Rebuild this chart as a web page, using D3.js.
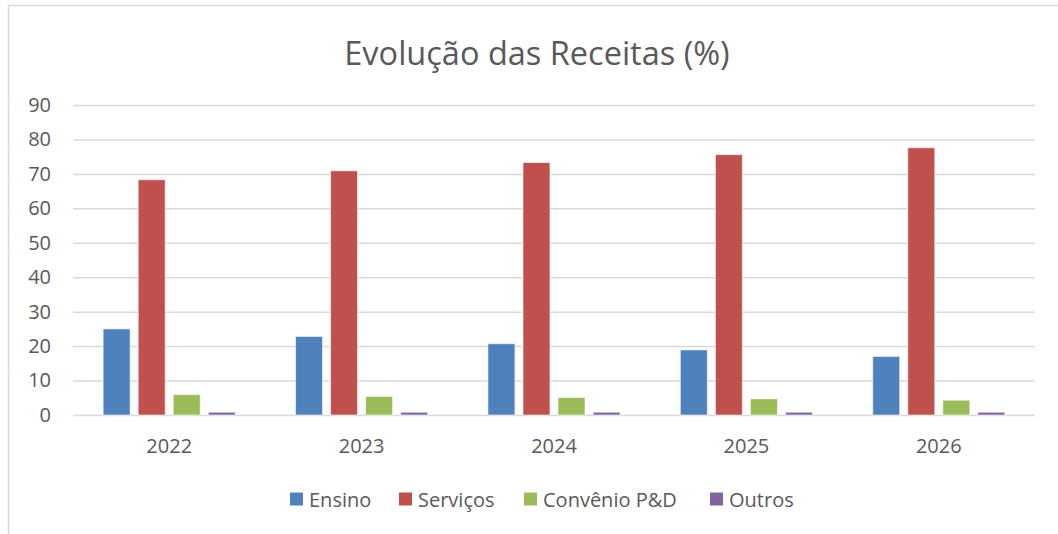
<!DOCTYPE html>
<html>
<head>
<meta charset="utf-8">
<script src="https://cdnjs.cloudflare.com/ajax/libs/d3/7.8.5/d3.min.js"></script>
<style>
	body { margin: 0; background: #fff; }
	text { font-family: 'Open Sans', sans-serif; fill: #595959; }
</style>
</head>
<body>
<svg id="chart" width="1058" height="534"></svg>
<script>
'use strict'

var years = ['2022', '2023', '2024', '2025', '2026'];
var seriesNames = ['Ensino', 'Serviços', 'Convênio P&D', 'Outros'];
var ensino = [25.0, 22.8, 20.7, 18.9, 17.0];
var servicos = [68.3, 70.9, 73.3, 75.6, 77.6];
var convenio = [5.9, 5.4, 5.1, 4.7, 4.3];
var outros = [0.8, 0.8, 0.8, 0.8, 0.8];
var yTicks = [0, 10, 20, 30, 40, 50, 60, 70, 80, 90];
var colors = ['#4F81BD', '#C0504D', '#9BBB59', '#8064A2'];

var values = [ensino, servicos, convenio, outros];

var svg = d3.select('#chart');
var margin = { left: 73, right: 23, top: 105, bottom: 119 };
var width = 1058, height = 534;

// chart frame
svg.append('path')
	.attr('d', `M8.5,${height} V5.5 H${width}`)
	.attr('fill', 'none')
	.attr('stroke', '#d9d9d9')
	.attr('stroke-width', 1.5);

svg.append('text')
	.attr('x', 537)
	.attr('y', 65)
	.attr('text-anchor', 'middle')
	.attr('font-size', 32.5)
	.text('Evolução das Receitas (%)');

var xScale = d3.scaleBand()
	.domain(years)
	.range([margin.left, width - margin.right]);

var xInner = d3.scaleBand()
	.domain(seriesNames)
	.range([0, xScale.bandwidth()])
	.paddingInner(0.23)
	.paddingOuter(0.86);

var yScale = d3.scaleLinear()
	.domain([0, 90])
	.range([height - margin.bottom, margin.top]);

// gridlines + y labels
var yAxis = svg.append('g')
	.attr('transform', `translate(${margin.left},0)`)
	.call(d3.axisLeft(yScale).tickValues(yTicks).tickSize(-(width - margin.left - margin.right)).tickPadding(22));
yAxis.select('.domain').remove();
yAxis.selectAll('line').attr('stroke', '#d9d9d9').attr('stroke-width', 1.5);
yAxis.selectAll('text').attr('font-size', 20).attr('fill', '#595959').attr('font-family', "'Open Sans', sans-serif");

// x labels
var xAxis = svg.append('g')
	.attr('transform', `translate(0,${height - margin.bottom})`)
	.call(d3.axisBottom(xScale).tickSize(0).tickPadding(24));
xAxis.select('.domain').remove();
xAxis.selectAll('text').attr('font-size', 20).attr('fill', '#595959').attr('font-family', "'Open Sans', sans-serif");

// bars
seriesNames.forEach(function(name, i){
	svg.append('g')
		.selectAll('rect')
		.data(values[i])
		.enter()
		.append('rect')
		.attr('x', function(d, j){ return xScale(years[j]) + xInner(name); })
		.attr('width', xInner.bandwidth())
		.attr('y', function(d){ return yScale(d); })
		.attr('height', function(d){ return yScale(0) - yScale(d); })
		.attr('fill', colors[i])
		.attr('stroke', '#ffffff')
		.attr('stroke-opacity', 0.6)
		.attr('stroke-width', 1);
});

// legend
var legendX = [290, 399, 524, 710];
var legend = svg.append('g');
seriesNames.forEach(function(name, i){
	legend.append('rect')
		.attr('x', legendX[i])
		.attr('y', 492.5)
		.attr('width', 13)
		.attr('height', 13)
		.attr('fill', colors[i]);
	legend.append('text')
		.attr('x', legendX[i] + 19)
		.attr('y', 506.5)
		.attr('font-size', 20)
		.text(name);
});
</script>
</body>
</html>
